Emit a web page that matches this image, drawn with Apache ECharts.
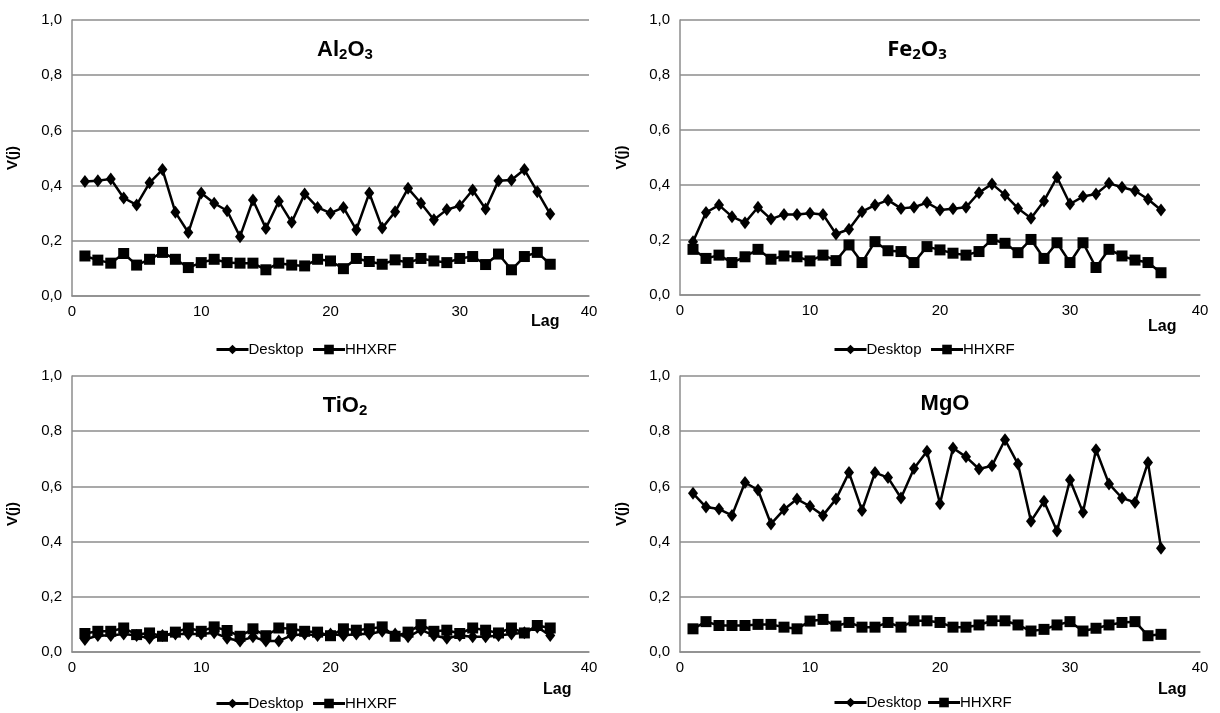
<!DOCTYPE html>
<html>
<head>
<meta charset="utf-8">
<title>Variograms</title>
<script src="https://cdn.jsdelivr.net/npm/echarts@6/dist/echarts.min.js"></script>
<style>
    html, body { margin: 0; padding: 0; background: #fff; }
    #chart { width: 1220px; height: 713px; }
</style>
</head>
<body>
<div id="chart"></div>
<script>
// lag 1..37
const lags = [1,2,3,4,5,6,7,8,9,10,11,12,13,14,15,16,17,18,19,20,21,22,23,24,25,26,27,28,29,30,31,32,33,34,35,36,37];
const yTicks = [0, 0.2, 0.4, 0.6, 0.8, 1.0];
const xTicks = [0, 10, 20, 30, 40];

const al2o3Desktop = [0.415,0.418,0.424,0.355,0.330,0.410,0.458,0.303,0.230,0.373,0.336,0.309,0.215,0.348,0.245,0.343,0.267,0.370,0.321,0.300,0.321,0.240,0.373,0.246,0.305,0.390,0.336,0.276,0.313,0.327,0.384,0.315,0.418,0.420,0.458,0.378,0.297];
const al2o3Hhxrf = [0.145,0.130,0.119,0.154,0.112,0.133,0.158,0.133,0.103,0.121,0.133,0.121,0.119,0.119,0.095,0.119,0.112,0.109,0.133,0.127,0.099,0.136,0.125,0.115,0.131,0.121,0.136,0.127,0.121,0.136,0.143,0.114,0.152,0.095,0.143,0.158,0.115];

const fe2o3Desktop = [0.194,0.300,0.327,0.285,0.263,0.319,0.276,0.293,0.293,0.297,0.293,0.222,0.239,0.303,0.327,0.345,0.315,0.319,0.336,0.309,0.314,0.319,0.372,0.404,0.364,0.315,0.279,0.342,0.428,0.331,0.358,0.367,0.406,0.392,0.379,0.348,0.309];
const fe2o3Hhxrf = [0.166,0.133,0.145,0.118,0.139,0.166,0.130,0.142,0.139,0.124,0.145,0.125,0.182,0.118,0.194,0.161,0.158,0.118,0.176,0.164,0.152,0.145,0.158,0.202,0.188,0.154,0.202,0.133,0.190,0.118,0.190,0.100,0.166,0.142,0.127,0.118,0.081];

const tio2Desktop = [0.045,0.060,0.060,0.065,0.060,0.050,0.060,0.065,0.065,0.065,0.070,0.050,0.040,0.055,0.040,0.040,0.060,0.065,0.060,0.065,0.060,0.065,0.065,0.075,0.065,0.055,0.080,0.060,0.050,0.060,0.055,0.055,0.060,0.065,0.070,0.090,0.060];
const tio2Hhxrf = [0.067,0.075,0.075,0.087,0.063,0.069,0.057,0.072,0.087,0.075,0.091,0.078,0.057,0.084,0.059,0.087,0.084,0.075,0.072,0.059,0.084,0.079,0.084,0.091,0.057,0.072,0.099,0.075,0.079,0.067,0.087,0.079,0.069,0.087,0.069,0.096,0.087];

const mgoDesktop = [0.575,0.525,0.518,0.495,0.614,0.587,0.464,0.516,0.554,0.528,0.495,0.554,0.650,0.513,0.650,0.632,0.558,0.665,0.727,0.537,0.739,0.707,0.663,0.675,0.769,0.681,0.474,0.546,0.438,0.623,0.506,0.733,0.609,0.558,0.542,0.687,0.376];
const mgoHhxrf = [0.084,0.110,0.096,0.096,0.096,0.100,0.100,0.090,0.084,0.112,0.118,0.094,0.107,0.090,0.090,0.107,0.090,0.113,0.113,0.107,0.090,0.090,0.098,0.113,0.113,0.098,0.076,0.082,0.098,0.110,0.076,0.086,0.098,0.107,0.110,0.059,0.064];

const seriesNames = ['Desktop', 'HHXRF'];

const panels = [
    { title: '{b|Al}{s|2}{b|O}{s|3}', font: 'Liberation Sans', desktop: al2o3Desktop, hhxrf: al2o3Hhxrf,
      grid: { left: 72, top: 20, width: 517, height: 276 }, titlePos: [340, 32], legendTop: 342, legendLeft: 215, legendGap: 8, lagGap: -58, lagPad: 18, vjX: 18 },
    { title: '{b|Fe}{s|2}{b|O}{s|3}', font: 'Open Sans', desktop: fe2o3Desktop, hhxrf: fe2o3Hhxrf,
      grid: { left: 680, top: 20, width: 520, height: 275 }, titlePos: [912, 32], legendTop: 342, legendLeft: 833, legendGap: 8, lagGap: -52, lagPad: 24, vjX: 627 },
    { title: '{b|Ti}{b|O}{s|2}', font: 'Liberation Sans', desktop: tio2Desktop, hhxrf: tio2Hhxrf,
      grid: { left: 72, top: 376, width: 517, height: 276 }, titlePos: [340, 388], legendTop: 696, legendLeft: 215, legendGap: 8, lagGap: -46, lagPad: 30, vjX: 18 },
    { title: '{b|MgO}', font: 'Liberation Sans', desktop: mgoDesktop, hhxrf: mgoHhxrf,
      grid: { left: 680, top: 376, width: 520, height: 276 }, titlePos: [940, 388], legendTop: 695, legendLeft: 833, legendGap: 5, lagGap: -42, lagPad: 30, vjX: 627 }
];

function fmt(v) {
    return v.toFixed(1).replace('.', ',');
}

const chart = echarts.init(document.getElementById('chart'));

var option = {
    backgroundColor: '#ffffff',
    animation: false,
    textStyle: { fontFamily: 'Liberation Sans', color: '#000' },
    title: [],
    legend: [],
    grid: [],
    xAxis: [],
    yAxis: [],
    series: []
};

panels.forEach(function (p, i) {
    option.grid.push(p.grid);
    option.title.push({
        text: p.title,
        left: p.titlePos[0],
        top: p.titlePos[1],
        textAlign: 'center',
        textStyle: {
            rich: {
                b: { fontFamily: p.font, fontSize: 22, fontWeight: 'bold', color: '#000' },
                s: { fontFamily: p.font, fontSize: 15, fontWeight: 'bold', color: '#000', padding: [10, 0, 0, 0] }
            }
        }
    });
    option.legend.push({
        data: seriesNames,
        left: p.legendLeft,
        top: p.legendTop,
        itemWidth: 32,
        itemHeight: 12,
        itemGap: p.legendGap,
        padding: 0,
        lineStyle: { width: 3, color: '#000' },
        textStyle: { fontFamily: 'Liberation Sans', fontSize: 15, color: '#000', padding: [0, 0, 0, -5] }
    });
    option.xAxis.push({
        type: 'value',
        gridIndex: i,
        min: 0,
        max: 40,
        interval: 10,
        name: 'Lag',
        nameLocation: 'end',
        nameGap: p.lagGap,
        nameTextStyle: { fontSize: 16, fontWeight: 'bold', color: '#000', verticalAlign: 'top', padding: [p.lagPad, 0, 0, 0] },
        axisLine: { show: true, lineStyle: { color: '#8c8c8c', width: 1.5 } },
        axisTick: { show: false },
        splitLine: { show: false },
        axisLabel: { fontSize: 15, color: '#000', margin: 8, formatter: function (v) { return xTicks.indexOf(v) >= 0 ? String(v) : ''; } }
    });
    option.yAxis.push({
        type: 'value',
        gridIndex: i,
        min: yTicks[0],
        max: yTicks[yTicks.length - 1],
        interval: 0.2,
        name: 'V(j)',
        nameLocation: 'middle',
        nameGap: p.grid.left - p.vjX - 2,
        nameTextStyle: { fontSize: 15, fontWeight: 'bold', color: '#000' },
        axisLine: { show: true, lineStyle: { color: '#8c8c8c', width: 1.5 } },
        axisTick: { show: false },
        splitLine: { show: true, lineStyle: { color: '#8c8c8c', width: 1.5 } },
        axisLabel: { fontSize: 15, color: '#000', margin: 10, formatter: fmt }
    });
    option.series.push({
        name: 'Desktop',
        type: 'line',
        xAxisIndex: i,
        yAxisIndex: i,
        symbol: 'diamond',
        symbolSize: [10, 13],
        showSymbol: true,
        lineStyle: { color: '#000', width: 2.5 },
        itemStyle: { color: '#000' },
        data: lags.map(function (l, k) { return [l, p.desktop[k]]; })
    });
    option.series.push({
        name: 'HHXRF',
        type: 'line',
        xAxisIndex: i,
        yAxisIndex: i,
        symbol: 'rect',
        symbolSize: 11,
        showSymbol: true,
        lineStyle: { color: '#000', width: 2.5 },
        itemStyle: { color: '#000' },
        data: lags.map(function (l, k) { return [l, p.hhxrf[k]]; })
    });
});

chart.setOption(option);
</script>
</body>
</html>
